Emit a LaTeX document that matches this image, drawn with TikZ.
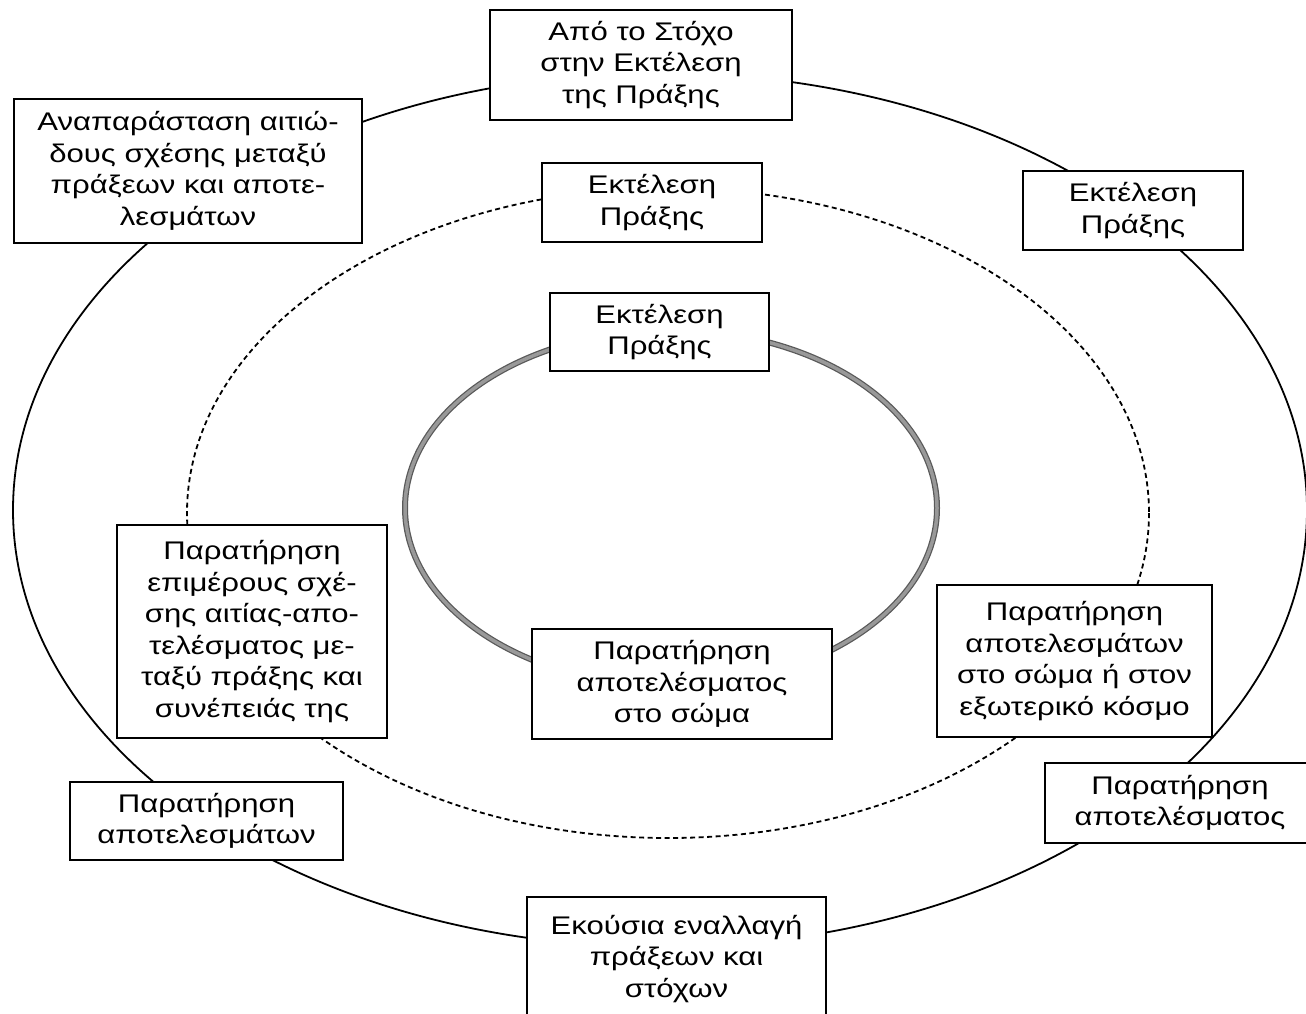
\documentclass[tikz,border=0pt]{standalone}
\usepackage{fontspec}
\newfontfamily\boxfont{Liberation Sans}[FakeStretch=1.22]
\begin{document}
\begin{tikzpicture}[x=1pt,y=-1pt,
  box/.style={draw, fill=white, line width=2pt, align=center, inner sep=0pt,
    font=\boxfont\fontsize{25.5pt}{31.5pt}\selectfont},
  outerring/.style={line width=1.8pt},
  dashring/.style={line width=1.8pt, dash pattern=on 5pt off 3.5pt},
  innerring/.style={line width=6pt, black!65},
  innerringcore/.style={line width=3.5pt, black!40}]
\useasboundingbox (0,0) rectangle (1306,1013);
\clip (0,0) rectangle (1306,1013);
\fill[white] (0,0) rectangle (1306,1013);
% rings
\draw[outerring] (660,510) ellipse [x radius=647, y radius=437];
\draw[dashring] (668,513) ellipse [x radius=481, y radius=325];
\draw[innerring] (671,508) ellipse [x radius=266, y radius=178];
\draw[innerringcore] (671,508) ellipse [x radius=266, y radius=178];
% boxes
\node[box, minimum width=348, minimum height=144] (repr) at (188,171)
  {Αναπαράσταση αιτιώ-\\δους σχέσης μεταξύ\\πράξεων και αποτε-\\λεσμάτων};
\node[box, minimum width=302, minimum height=110] (goal) at (641,65)
  {Από το Στόχο\\στην Εκτέλεση\\της Πράξης};
\node[box, minimum width=220, minimum height=79] (execmid) at (652,202.5)
  {Εκτέλεση\\Πράξης};
\node[box, minimum width=220, minimum height=79] (execout) at (1133,210.5)
  {Εκτέλεση\\Πράξης};
\node[box, minimum width=219, minimum height=78] (execin) at (659.5,332)
  {Εκτέλεση\\Πράξης};
\node[box, minimum width=270, minimum height=213] (partial) at (252,631.5)
  {Παρατήρηση\\επιμέρους σχέ-\\σης αιτίας-απο-\\τελέσματος με-\\ταξύ πράξης και\\συνέπειάς της};
\node[box, minimum width=300, minimum height=110] (obsin) at (682,684)
  {Παρατήρηση\\αποτελέσματος\\στο σώμα};
\node[box, minimum width=275, minimum height=152] (obsmid) at (1074.5,661)
  {Παρατήρηση\\αποτελεσμάτων\\στο σώμα ή στον\\εξωτερικό κόσμο};
\node[box, minimum width=270, minimum height=80] (obsoutr) at (1180,803)
  {Παρατήρηση\\αποτελέσματος};
\node[box, minimum width=273, minimum height=78] (obsoutl) at (206.5,821)
  {Παρατήρηση\\αποτελεσμάτων};
\node[box, minimum width=299, minimum height=124] (switch) at (676.5,959)
  {Εκούσια εναλλαγή\\πράξεων και\\στόχων};
\end{tikzpicture}
\end{document}
